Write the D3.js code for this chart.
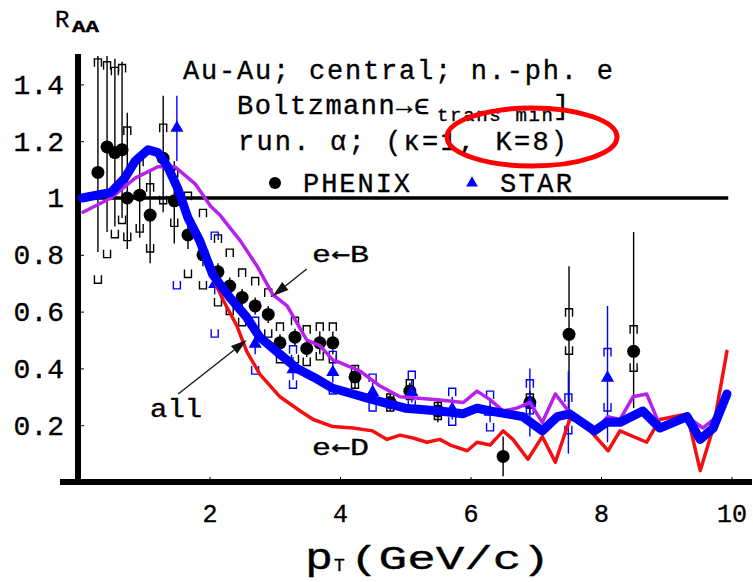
<!DOCTYPE html>
<html>
<head>
<meta charset="utf-8">
<script src="https://cdn.jsdelivr.net/npm/d3@7"></script>
<style>
  body { margin: 0; background: #fff; }
  svg text { font-family: "Liberation Mono", "DejaVu Sans Mono", monospace; fill: #000; stroke: #000; stroke-width: 0.35px; }
  svg tspan.arrow { font-family: "DejaVu Sans Mono", monospace; }
</style>
</head>
<body>
<svg id="chart" width="753" height="582"></svg>
<script>
/*** DATA ***/
//PHENIX non-photonic electrons
var phenixPt     = [0.29, 0.43, 0.55, 0.66, 0.74, 0.93, 1.09, 1.29, 1.46, 1.67, 1.90, 2.13, 2.31, 2.50, 2.70, 2.90, 3.08, 3.31, 3.49, 3.69, 3.89, 4.23, 4.77, 5.07, 5.50, 6.50, 6.91, 7.51, 8.50];
var phenixR      = [1.09, 1.18, 1.16, 1.17, 1.00, 1.01, 0.94, 1.14, 0.99, 0.87, 0.80, 0.74, 0.69, 0.65, 0.62, 0.59, 0.49, 0.51, 0.47, 0.49, 0.49, 0.37, 0.28, 0.32, 0.25, 0.09, 0.28, 0.52, 0.46];
var phenixStatLo = [0.81, 0.88, 0.90, 0.93, 0.82, 0.86, 0.77, 0.95, 0.84, 0.82, 0.76, 0.71, 0.66, 0.62, 0.59, 0.56, 0.46, 0.48, 0.44, 0.45, 0.45, 0.33, 0.25, 0.29, 0.21, 0.02, 0.24, 0.23, 0.26];
var phenixStatHi = [1.50, 1.50, 1.49, 1.48, 1.30, 1.16, 1.10, 1.36, 1.13, 0.92, 0.84, 0.77, 0.72, 0.68, 0.65, 0.62, 0.52, 0.54, 0.50, 0.53, 0.53, 0.41, 0.31, 0.35, 0.29, 0.16, 0.32, 0.76, 0.88];
var phenixSysLo  = [0.70, 0.79, 0.86, 0.91, 0.85, 0.88, 0.81, 0.98, 0.90, 0.72, 0.68, 0.62, 0.59, 0.55, 0.53, 0.51, 0.42, 0.42, 0.41, 0.43, 0.42, 0.33, 0.25, 0.29, 0.22, null, 0.26, 0.45, 0.39];
var phenixSysHi  = [1.49, 1.48, 1.46, 1.47, 1.25, 1.14, 1.05, 1.26, 1.10, 1.02, 0.96, 0.87, 0.82, 0.75, 0.72, 0.68, 0.56, 0.58, 0.55, 0.56, 0.56, 0.41, 0.31, 0.36, 0.28, null, 0.31, 0.61, 0.55];

//STAR non-photonic electrons
var starPt     = [1.50, 2.08, 2.70, 3.28, 3.89, 4.50, 5.10, 5.72, 6.30, 6.91, 7.50, 8.10];
var starR      = [1.25, 0.70, 0.49, 0.40, 0.39, 0.32, 0.32, 0.26, 0.25, 0.28, 0.24, 0.37];
var starStatLo = [1.13, 0.66, 0.45, 0.36, 0.35, 0.29, 0.28, 0.22, 0.21, 0.16, 0.10, 0.14];
var starStatHi = [1.36, 0.74, 0.53, 0.44, 0.43, 0.35, 0.36, 0.30, 0.29, 0.40, 0.39, 0.62];
var starSysLo  = [0.68, 0.51, 0.38, 0.33, 0.31, 0.25, 0.26, 0.20, 0.18, 0.24, 0.17, 0.25];
var starSysHi  = [null, 0.88, 0.58, 0.48, 0.46, 0.38, 0.39, 0.33, 0.32, 0.36, 0.31, 0.47];

//model curves
var allPt = [0.05, 0.49, 0.70, 0.86, 1.06, 1.21, 1.36, 1.52, 1.67, 1.85, 2.05, 2.31, 2.57, 2.77, 3.08, 3.34, 3.59, 3.89, 4.20, 4.50, 5.00, 5.53, 5.88, 6.10, 6.30, 6.56, 6.80, 7.10, 7.33, 7.52, 7.90, 8.09, 8.29, 8.64, 8.90, 9.32, 9.52, 9.72, 9.93];
var allR  = [1.00, 1.02, 1.07, 1.13, 1.17, 1.16, 1.11, 1.03, 0.93, 0.85, 0.73, 0.65, 0.58, 0.51, 0.45, 0.40, 0.37, 0.33, 0.31, 0.29, 0.26, 0.25, 0.24, 0.26, 0.25, 0.24, 0.23, 0.18, 0.23, 0.24, 0.18, 0.21, 0.21, 0.25, 0.19, 0.23, 0.15, 0.19, 0.31];

var bPt = [0.06, 0.49, 0.86, 1.21, 1.47, 1.78, 2.02, 2.16, 2.47, 2.73, 2.97, 3.19, 3.34, 3.49, 3.69, 3.89, 4.00, 4.31, 4.60, 4.92, 5.49, 5.89, 6.10, 6.30, 6.50, 6.71, 6.91, 7.10, 7.30, 7.50, 7.88, 8.10, 8.29, 8.49, 8.70, 8.90, 9.32, 9.56, 9.72, 9.93];
var bR  = [0.95, 1.00, 1.07, 1.11, 1.11, 1.05, 0.97, 0.94, 0.85, 0.76, 0.66, 0.62, 0.56, 0.50, 0.48, 0.43, 0.42, 0.39, 0.34, 0.30, 0.29, 0.28, 0.32, 0.29, 0.25, 0.26, 0.28, 0.21, 0.31, 0.25, 0.17, 0.23, 0.22, 0.30, 0.31, 0.20, 0.23, 0.19, 0.22, 0.29];

var dPt = [1.67, 1.85, 2.05, 2.21, 2.42, 2.57, 2.77, 3.08, 3.39, 3.59, 3.89, 4.20, 4.50, 4.72, 4.92, 5.12, 5.33, 5.53, 5.69, 5.95, 6.10, 6.30, 6.50, 6.65, 6.88, 7.10, 7.30, 7.52, 7.68, 8.11, 8.29, 8.70, 8.90, 9.32, 9.52, 9.72, 9.93];
var dR  = [0.93, 0.83, 0.72, 0.64, 0.55, 0.46, 0.38, 0.30, 0.25, 0.22, 0.195, 0.19, 0.18, 0.15, 0.165, 0.155, 0.14, 0.15, 0.13, 0.11, 0.14, 0.13, 0.18, 0.15, 0.08, 0.16, 0.07, 0.22, 0.22, 0.11, 0.18, 0.14, 0.22, 0.24, 0.04, 0.19, 0.46];

//ticks
var xTicks = [2, 4, 6, 8, 10];
var yTicks = [0.2, 0.4, 0.6, 0.8, 1, 1.2, 1.4];
var yTickLabels = ['0.2', '0.4', '0.6', '0.8', '1', '1.2', '1.4'];

/*** COLORS ***/
var colorAll = '#0000ff';
var colorB = '#b820ec';
var colorD = '#f21010';
var colorStar = '#0000ff';

var svg = d3.select('#chart');
var x = d3.scaleLinear().domain([0, 10]).range([79, 731.5]);
var y = d3.scaleLinear().domain([0, 1]).range([482, 198]);

//axes
function drawAxes() {
  var xAxis = d3.axisBottom(x).tickValues(xTicks).tickSize(-5).tickPadding(22).tickFormat(d3.format('d'));
  var gx = svg.append('g').attr('transform', 'translate(0,' + y(0) + ')').call(xAxis);
  gx.select('.domain').remove();
  gx.selectAll('.tick line').attr('stroke', '#000').attr('stroke-width', 1);
  gx.selectAll('.tick text').style('font-size', '25px').attr('fill', '#000');

  var yAxis = d3.axisLeft(y).tickValues(yTicks).tickSize(-5).tickPadding(15)
    .tickFormat(function(d, i) { return yTickLabels[i]; });
  var gy = svg.append('g').attr('transform', 'translate(' + x(0) + ',0)').call(yAxis);
  gy.select('.domain').remove();
  gy.selectAll('.tick line').attr('stroke', '#000').attr('stroke-width', 1);
  gy.selectAll('.tick text').style('font-size', '28px').attr('fill', '#000');

  //thick axis lines
  svg.append('line')
    .attr('x1', 60).attr('x2', 752).attr('y1', y(0)).attr('y2', y(0))
    .attr('stroke', '#000').attr('stroke-width', 6);
  svg.append('line')
    .attr('x1', x(0) - 1).attr('x2', x(0) - 1).attr('y1', 54).attr('y2', y(0))
    .attr('stroke', '#000').attr('stroke-width', 6);

  //R=1 reference line
  svg.append('line')
    .attr('x1', x(0)).attr('x2', x(9.95)).attr('y1', y(1)).attr('y2', y(1))
    .attr('stroke', '#000').attr('stroke-width', 3.5);
}

//bracket caps for systematic errors
function bracket(cx, cy, top) {
  var w = 3.5, h = top ? 8 : -8;
  return 'M' + (cx - w) + ',' + (cy + h) + 'V' + cy + 'H' + (cx + w) + 'V' + (cy + h);
}

function drawData(pts, vals, statLo, statHi, sysLo, sysHi, color, isStar) {
  var g = svg.append('g');
  pts.forEach(function(p, i) {
    var cx = x(p);
    g.append('line')
      .attr('x1', cx).attr('x2', cx).attr('y1', y(statLo[i])).attr('y2', y(statHi[i]))
      .attr('stroke', color).attr('stroke-width', 1.4);
    if (sysHi[i] != null) {
      g.append('path').attr('d', bracket(cx, y(sysHi[i]), true))
        .attr('fill', 'none').attr('stroke', color).attr('stroke-width', 1.4);
    }
    if (sysLo[i] != null) {
      g.append('path').attr('d', bracket(cx, y(sysLo[i]), false))
        .attr('fill', 'none').attr('stroke', color).attr('stroke-width', 1.4);
    }
  });
  pts.forEach(function(p, i) {
    if (isStar) {
      g.append('path')
        .attr('d', d3.symbol(d3.symbolTriangle, 75)())
        .attr('transform', 'translate(' + x(p) + ',' + (y(vals[i]) + 1) + ')')
        .attr('fill', color);
    }
    else {
      g.append('circle').attr('cx', x(p)).attr('cy', y(vals[i])).attr('r', 6.5).attr('fill', '#000');
    }
  });
}

function drawCurve(pts, vals, color, width) {
  var line = d3.line().x(function(d) { return x(d[0]); }).y(function(d) { return y(d[1]); });
  svg.append('path')
    .datum(d3.zip(pts, vals))
    .attr('d', line)
    .attr('fill', 'none')
    .attr('stroke', color)
    .attr('stroke-width', width)
    .attr('stroke-linejoin', 'round')
    .attr('stroke-linecap', 'round');
}

function drawArrow(p1, r1, p2, r2) {
  var x1 = x(p1), y1 = y(r1), x2 = x(p2), y2 = y(r2);
  var a = Math.atan2(y2 - y1, x2 - x1), len = 16, hw = 5;
  var bx = x2 - len * Math.cos(a), by = y2 - len * Math.sin(a);
  svg.append('line').attr('x1', x1).attr('y1', y1).attr('x2', bx).attr('y2', by)
    .attr('stroke', '#111').attr('stroke-width', 1.3);
  svg.append('path')
    .attr('d', 'M' + x2 + ',' + y2 +
      'L' + (bx + hw * Math.sin(a)) + ',' + (by - hw * Math.cos(a)) +
      'L' + (bx - hw * Math.sin(a)) + ',' + (by + hw * Math.cos(a)) + 'Z')
    .attr('fill', '#111');
}

function addText(str, tx, ty, size, len, stretch) {
  var t = svg.append('text').attr('x', tx).attr('y', ty).style('font-size', size + 'px').text(str);
  if (len) t.attr('textLength', len).attr('lengthAdjust', stretch ? 'spacingAndGlyphs' : 'spacing');
  return t;
}

//label of the form "e<-X" with a wider arrow glyph
function addDecayLabel(letter, tx, ty) {
  var t = svg.append('text').attr('x', tx).attr('y', ty).style('font-size', '24px')
    .attr('textLength', 57).attr('lengthAdjust', 'spacingAndGlyphs');
  t.append('tspan').text('e');
  t.append('tspan').attr('class', 'arrow').text('\u2190');
  t.append('tspan').text(letter);
}

/*** DRAW ***/
drawAxes();
drawData(phenixPt, phenixR, phenixStatLo, phenixStatHi, phenixSysLo, phenixSysHi, '#000', false);
drawData(starPt, starR, starStatLo, starStatHi, starSysLo, starSysHi, colorStar, true);
drawCurve(dPt, dR, colorD, 3.5);
drawCurve(bPt, bR, colorB, 3.5);
drawCurve(allPt, allR, colorAll, 9);

//annotations
drawArrow(3.49, 0.75, 2.97, 0.655);
drawArrow(1.52, 0.31, 2.57, 0.50);
addDecayLabel('B', x(3.57), y(0.775));
addText('all', x(1.09), y(0.229), 25, 52, true);
addDecayLabel('D', x(3.57), y(0.095));

//axis titles
addText('R', 55, 27, 24);
addText('AA', 72, 32, 16, 27, true).style('font-weight', 'bold');
addText('p', 305, 569, 36, 28, true);
addText('T', 334, 571, 18);
addText('(GeV/c)', 350, 569, 34, 200, true);

//header
addText('Au-Au; central; n.-ph. e', 183, 79, 27, 430);
addText('Boltzmann\u2192\u03f5', 237, 114, 27, 193);
addText('trans min', 437, 121, 19, 116);
addText(']', 553, 114, 27);
addText('run. \u03b1; (\u03ba=1, K=8)', 238, 150, 27, 329);

//legend
svg.append('circle').attr('cx', 275).attr('cy', 183).attr('r', 6).attr('fill', '#000');
addText('PHENIX', 303, 192, 27, 107);
svg.append('path').attr('d', d3.symbol(d3.symbolTriangle, 60)())
  .attr('transform', 'translate(472,183)').attr('fill', colorStar);
addText('STAR', 500, 192, 27, 72);

//red highlight ellipse
svg.append('ellipse')
  .attr('cx', 532).attr('cy', 137).attr('rx', 85).attr('ry', 29)
  .attr('fill', 'none').attr('stroke', '#f00').attr('stroke-width', 5);
</script>
</body>
</html>
